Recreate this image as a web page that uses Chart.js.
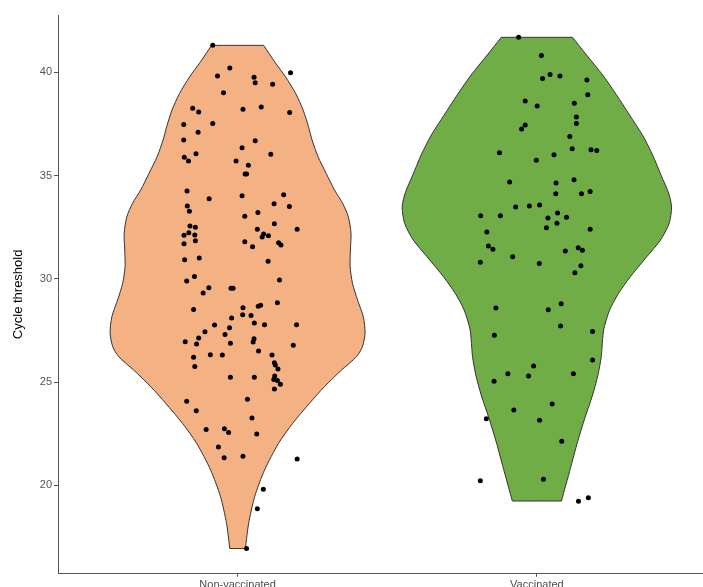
<!DOCTYPE html>
<html>
<head>
<meta charset="utf-8">
<script src="https://cdn.jsdelivr.net/npm/chart.js@4/dist/chart.umd.min.js"></script>
<style>
    body { margin: 0; background: #fff; }
    #grafico { display: block; }
</style>
</head>
<body>
<canvas id="grafico" width="703" height="587"></canvas>
<script>
// grupos
const grupos = ['Non-vaccinated', 'Vaccinated']
const yTicks = [20, 25, 30, 35, 40]

// contorno do violino (Ct, meia largura em unidades do eixo x)
const nonVaxGridCt = [41.31, 40.51, 39.79, 38.98, 38.18, 37.37, 36.72, 35.91, 35.11, 34.30, 33.66, 33.01, 32.20, 31.40, 30.59, 29.78, 28.97, 28.17, 27.38, 26.71, 26.23, 25.58, 24.78, 23.97, 23.00, 22.04, 20.74, 19.45, 18.16, 16.94]
const nonVaxHalfWidth = [0.087, 0.124, 0.160, 0.194, 0.219, 0.237, 0.249, 0.269, 0.296, 0.324, 0.351, 0.370, 0.379, 0.377, 0.376, 0.384, 0.401, 0.420, 0.426, 0.417, 0.397, 0.347, 0.290, 0.240, 0.184, 0.137, 0.090, 0.057, 0.037, 0.026]

const vaxGridCt = [41.70, 40.84, 39.87, 38.91, 37.93, 36.96, 35.99, 35.02, 34.16, 33.49, 32.69, 31.88, 31.07, 30.10, 29.30, 28.49, 27.52, 26.23, 25.34, 24.37, 23.25, 22.11, 20.82, 19.24]
const vaxHalfWidth = [0.119, 0.166, 0.220, 0.266, 0.310, 0.353, 0.387, 0.415, 0.440, 0.450, 0.442, 0.413, 0.367, 0.312, 0.273, 0.243, 0.223, 0.215, 0.204, 0.186, 0.160, 0.136, 0.112, 0.082]

// pontos (posicao x com jitter, Ct)
const nonVaxX = [0.917, 0.974, 1.177, 0.933, 1.055, 1.059, 1.117, 0.953, 0.850, 0.870, 1.018, 1.079, 1.174, 0.820, 0.917, 0.868, 0.820, 1.059, 1.015, 0.822, 0.836, 0.861, 1.111, 0.995, 1.036, 1.025, 1.030, 0.831, 0.905, 1.015, 1.154, 0.832, 0.839, 1.122, 1.173, 1.068, 1.024, 1.123, 0.841, 0.859, 1.199, 1.066, 0.837, 0.821, 0.857, 1.087, 1.082, 1.103, 0.821, 0.859, 1.024, 1.050, 1.137, 1.145, 0.823, 0.872, 1.102, 0.830, 0.856, 1.140, 0.904, 0.885, 0.978, 0.985, 0.853, 1.018, 1.069, 1.077, 1.133, 1.017, 1.045, 0.980, 1.056, 1.090, 1.197, 0.923, 0.973, 0.891, 0.958, 0.825, 0.870, 0.863, 0.976, 1.055, 1.052, 1.186, 0.853, 0.909, 0.949, 1.070, 1.115, 1.123, 0.857, 1.126, 1.135, 1.056, 0.976, 1.124, 1.121, 1.133, 1.143, 1.123, 0.830, 0.862, 1.033, 1.048, 0.895, 0.956, 0.970, 1.064, 0.936, 0.955, 1.018, 1.199, 1.086, 1.066, 1.030]
const nonVaxCt = [41.31, 40.21, 39.98, 39.82, 39.77, 39.50, 39.43, 39.01, 38.26, 38.08, 38.22, 38.32, 38.06, 37.48, 37.53, 37.10, 36.72, 36.69, 36.35, 35.89, 35.71, 36.06, 36.03, 35.71, 35.50, 35.08, 35.08, 34.25, 33.88, 34.03, 34.07, 33.53, 33.28, 33.64, 33.51, 33.22, 33.03, 32.67, 32.56, 32.50, 32.40, 32.40, 32.23, 32.11, 32.12, 32.17, 32.03, 32.09, 31.70, 31.85, 31.80, 31.56, 31.75, 31.64, 30.93, 31.01, 30.85, 29.90, 30.12, 29.94, 29.57, 29.31, 29.54, 29.54, 28.52, 28.60, 28.67, 28.72, 28.84, 28.26, 28.23, 28.10, 27.86, 27.78, 27.78, 27.76, 27.63, 27.44, 27.31, 26.96, 27.13, 26.84, 26.88, 27.10, 26.94, 26.78, 26.20, 26.33, 26.31, 26.51, 26.31, 25.94, 25.76, 25.83, 25.63, 25.23, 25.23, 25.29, 25.13, 25.08, 24.89, 24.67, 24.07, 23.61, 24.17, 23.26, 22.70, 22.74, 22.56, 22.49, 21.86, 21.34, 21.41, 21.28, 19.81, 18.87, 16.94]

const vaxX = [1.939, 2.015, 2.019, 2.044, 2.077, 2.167, 2.170, 1.961, 2.001, 2.125, 2.132, 2.132, 1.961, 1.949, 2.110, 1.875, 2.057, 1.998, 2.118, 2.181, 2.200, 1.909, 2.064, 2.124, 2.063, 2.149, 2.178, 1.929, 1.975, 2.009, 1.812, 1.878, 2.037, 2.069, 2.099, 2.067, 2.032, 2.178, 1.833, 1.838, 1.853, 2.095, 2.138, 2.152, 1.811, 1.919, 2.008, 2.147, 2.127, 1.863, 2.038, 2.081, 2.079, 2.186, 1.858, 2.186, 1.989, 1.903, 1.972, 2.122, 1.857, 2.051, 1.923, 1.831, 2.009, 2.083, 1.811, 2.022, 2.139, 2.172]
const vaxCt = [41.70, 40.82, 39.71, 39.90, 39.82, 39.63, 38.92, 38.61, 38.37, 38.51, 37.84, 37.53, 37.45, 37.26, 36.90, 36.11, 36.01, 35.75, 36.30, 36.25, 36.22, 34.69, 34.64, 34.80, 34.12, 34.12, 34.23, 33.48, 33.53, 33.58, 33.06, 33.06, 32.95, 33.19, 32.98, 32.69, 32.48, 32.40, 32.27, 31.59, 31.43, 31.35, 31.51, 31.38, 30.80, 31.07, 30.75, 30.64, 30.30, 28.59, 28.51, 28.80, 27.72, 27.45, 27.27, 26.07, 25.78, 25.41, 25.30, 25.41, 25.04, 23.94, 23.65, 23.23, 23.15, 22.13, 20.22, 20.29, 19.23, 19.40]

const fonte = '"Liberation Sans", Arial, sans-serif'

function contorno(centro, gridCt, meia) {
    let pts = []
    let n = gridCt.length
    // lado esquerdo de baixo pra cima
    for (let i = n - 1; i >= 0; i--) {
        pts.push({ x: centro - meia[i], y: gridCt[i] })
    }
    // repete o canto pra o topo ficar reto
    pts.push({ x: centro - meia[0], y: gridCt[0] })
    pts.push({ x: centro + meia[0], y: gridCt[0] })
    // lado direito de cima pra baixo
    for (let i = 0; i < n; i++) {
        pts.push({ x: centro + meia[i], y: gridCt[i] })
    }
    // fundo reto
    pts.push({ x: centro + meia[n - 1], y: gridCt[n - 1] })
    pts.push({ x: centro - meia[n - 1], y: gridCt[n - 1] })
    pts.push({ x: centro - meia[n - 1], y: gridCt[n - 1] })
    return pts
}

function pontos(xs, ys) {
    return xs.map((x, i) => ({ x: x, y: ys[i] }))
}

var ctx = document.getElementById('grafico')

myChart = new Chart(ctx, {
    type: 'scatter',
    data: {
        datasets: [
            {
                label: 'pts non-vax',
                data: pontos(nonVaxX, nonVaxCt),
                backgroundColor: '#000',
                borderWidth: 0,
                pointRadius: 2.5,
                order: 0
            },
            {
                label: 'pts vax',
                data: pontos(vaxX, vaxCt),
                backgroundColor: '#000',
                borderWidth: 0,
                pointRadius: 2.5,
                order: 0
            },
            {
                type: 'line',
                label: grupos[0],
                data: contorno(1, nonVaxGridCt, nonVaxHalfWidth),
                borderColor: '#333',
                borderWidth: 1,
                backgroundColor: '#F4B183',
                fill: 'shape',
                tension: 0.25,
                pointRadius: 0,
                order: 1
            },
            {
                type: 'line',
                label: grupos[1],
                data: contorno(2, vaxGridCt, vaxHalfWidth),
                borderColor: '#333',
                borderWidth: 1,
                backgroundColor: '#70AD47',
                fill: 'shape',
                tension: 0.25,
                pointRadius: 0,
                order: 1
            }
        ]
    },
    options: {
        responsive: false,
        animation: false,
        layout: { autoPadding: false, padding: { top: 15, right: 0, left: 0, bottom: 0 } },
        plugins: {
            legend: { display: false },
            tooltip: { enabled: false }
        },
        scales: {
            x: {
                type: 'linear',
                min: 0.4,
                max: 2.555,
                afterBuildTicks: (scale) => {
                    scale.ticks = [{ value: 1 }, { value: 2 }]
                },
                afterFit: (scale) => { scale.height = 13.3 },
                ticks: {
                    callback: (v) => grupos[v - 1],
                    color: '#4d4d4d',
                    font: { family: fonte, size: 11 },
                    padding: 2,
                    maxRotation: 0
                },
                grid: { display: true, drawOnChartArea: false, drawTicks: true, tickLength: 3, color: '#555' },
                border: { display: true, color: '#555', width: 1 }
            },
            y: {
                min: 15.72,
                max: 42.78,
                afterBuildTicks: (scale) => {
                    scale.ticks = yTicks.map(v => ({ value: v }))
                },
                afterFit: (scale) => { scale.width = 58 },
                ticks: {
                    color: '#555',
                    font: { family: fonte, size: 11 },
                    padding: 2
                },
                grid: { display: true, drawOnChartArea: false, drawTicks: true, tickLength: 4, color: '#555' },
                border: { display: true, color: '#555', width: 1 },
                title: {
                    display: true,
                    text: 'Cycle threshold',
                    color: '#000',
                    font: { family: fonte, size: 13 },
                    padding: { top: 11, bottom: 0 }
                }
            }
        }
    }
})
</script>
</body>
</html>
